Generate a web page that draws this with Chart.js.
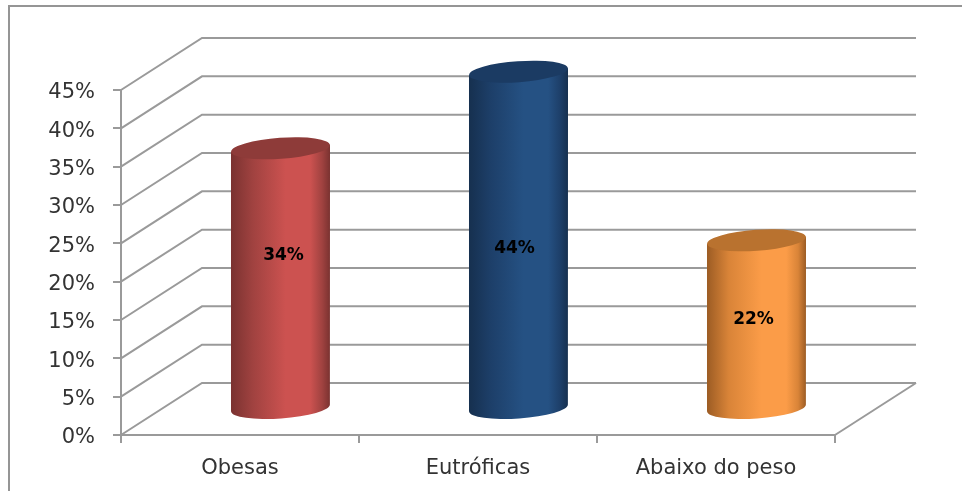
<!DOCTYPE html>
<html>
<head>
<meta charset="utf-8">
<title>Obesas, Eutróficas, Abaixo do peso</title>
<script src="https://cdn.jsdelivr.net/npm/chart.js@4"></script>
<style>
    html, body { margin: 0; padding: 0; background: #fff; overflow: hidden; }
    #wrap { position: absolute; left: 0; top: 0; width: 962px; height: 491px; }
    /* frame only has left and top sides in the picture */
    #frame { position: absolute; left: 8px; top: 5px; right: 0; bottom: 0; border-left: 2px solid #959595; border-top: 2px solid #959595; }
    canvas { position: absolute; left: 0; top: 0; filter: blur(0.6px); }
</style>
</head>
<body>
<div id="wrap">
    <div id="frame"></div>
    <canvas id="chart" width="962" height="491"></canvas>
</div>
<script>
// data
const categories = ['Obesas', 'Eutróficas', 'Abaixo do peso'];
const percentages = [34, 44, 22];
const axisMax = 45;
const axisStep = 5;

// colours per bar
const barMid = ['#cc5250', '#255183', '#fb9c48'];
const barShade = ['#a04240', '#1d3f69', '#d98438'];
const barEdge = ['#7a3230', '#16304f', '#9c5c24'];
const barCap = ['#8e3b39', '#1b3b63', '#b9722f'];

// look
const depthX = 81;
const depthY = -52;
const lineColor = '#9a9a9a';
const textColor = '#333333';
const capRadiusY = 10.5;
const capTilt = -0.07;
// labels were moved by hand in the original, nudge from the middle of the bar
const labelNudge = [[3, -23], [-4, 9], [-3, -5]];

function drawWalls(chart) {
    const ctx = chart.ctx;
    const yScale = chart.scales.y;
    const area = chart.chartArea;
    ctx.save();
    ctx.strokeStyle = lineColor;
    ctx.lineWidth = 2;
    yScale.ticks.forEach(tick => {
        const y = yScale.getPixelForValue(tick.value);
        ctx.beginPath();
        ctx.moveTo(area.left, y);
        ctx.lineTo(area.left + depthX, y + depthY);
        ctx.lineTo(area.right + depthX, y + depthY);
        ctx.stroke();
    });
    // floor edge on the right
    ctx.beginPath();
    ctx.moveTo(area.right, area.bottom);
    ctx.lineTo(area.right + depthX, area.bottom + depthY);
    ctx.stroke();
    ctx.restore();
}

function drawCylinder(ctx, bar, i) {
    const cx = bar.x + depthX / 2;
    const topY = bar.y + depthY / 2;
    const baseY = bar.base + depthY / 2;
    const rx = bar.width / 2;
    const drop = rx * Math.sin(-capTilt);

    const grad = ctx.createLinearGradient(cx - rx, 0, cx + rx, 0);
    grad.addColorStop(0, barEdge[i]);
    grad.addColorStop(0.22, barShade[i]);
    grad.addColorStop(0.55, barMid[i]);
    grad.addColorStop(0.8, barMid[i]);
    grad.addColorStop(0.92, barShade[i]);
    grad.addColorStop(1, barEdge[i]);

    ctx.beginPath();
    ctx.moveTo(cx - rx, topY + drop);
    ctx.lineTo(cx - rx, baseY + drop);
    ctx.ellipse(cx, baseY, rx, capRadiusY, capTilt, Math.PI, 0, true);
    ctx.lineTo(cx + rx, topY - drop);
    ctx.closePath();
    ctx.fillStyle = grad;
    ctx.fill();

    ctx.beginPath();
    ctx.ellipse(cx, topY, rx, capRadiusY, capTilt, 0, Math.PI * 2);
    ctx.fillStyle = barCap[i];
    ctx.fill();

    ctx.fillStyle = '#000';
    ctx.font = 'bold 17px "DejaVu Sans"';
    ctx.textAlign = 'center';
    ctx.textBaseline = 'middle';
    ctx.fillText(percentages[i] + '%', cx + labelNudge[i][0], (topY + baseY) / 2 + labelNudge[i][1]);
}

// walls and cylinders replace the flat bars
const cylinderPlugin = {
    id: 'cylinders',
    beforeDatasetsDraw(chart) {
        drawWalls(chart);
        chart.getDatasetMeta(0).data.forEach((bar, i) => {
            drawCylinder(chart.ctx, bar, i);
        });
        return false;
    }
};

new Chart(document.getElementById('chart'), {
    type: 'bar',
    data: {
        labels: categories,
        datasets: [{
            data: percentages,
            backgroundColor: barMid,
            barPercentage: 0.416,
            categoryPercentage: 1
        }]
    },
    options: {
        responsive: false,
        animation: false,
        layout: { padding: { left: 0, right: 127, top: 90, bottom: 0 } },
        plugins: {
            legend: { display: false },
            tooltip: { enabled: false }
        },
        scales: {
            x: {
                afterFit(scale) { scale.height = 56; },
                border: { color: lineColor, width: 2 },
                grid: { drawOnChartArea: false, color: lineColor, lineWidth: 2, tickLength: 8 },
                ticks: { color: textColor, padding: 13, maxRotation: 0, font: { family: 'DejaVu Sans', size: 21 } }
            },
            y: {
                min: 0,
                max: axisMax,
                afterFit(scale) { scale.width = 121; },
                border: { color: lineColor, width: 2 },
                grid: { drawOnChartArea: false, color: lineColor, lineWidth: 2, tickLength: 8 },
                ticks: {
                    stepSize: axisStep,
                    color: textColor,
                    padding: 18,
                    labelOffset: 3,
                    font: { family: 'DejaVu Sans', size: 21 },
                    callback: value => value + '%'
                }
            }
        }
    },
    plugins: [cylinderPlugin]
});
</script>
</body>
</html>
